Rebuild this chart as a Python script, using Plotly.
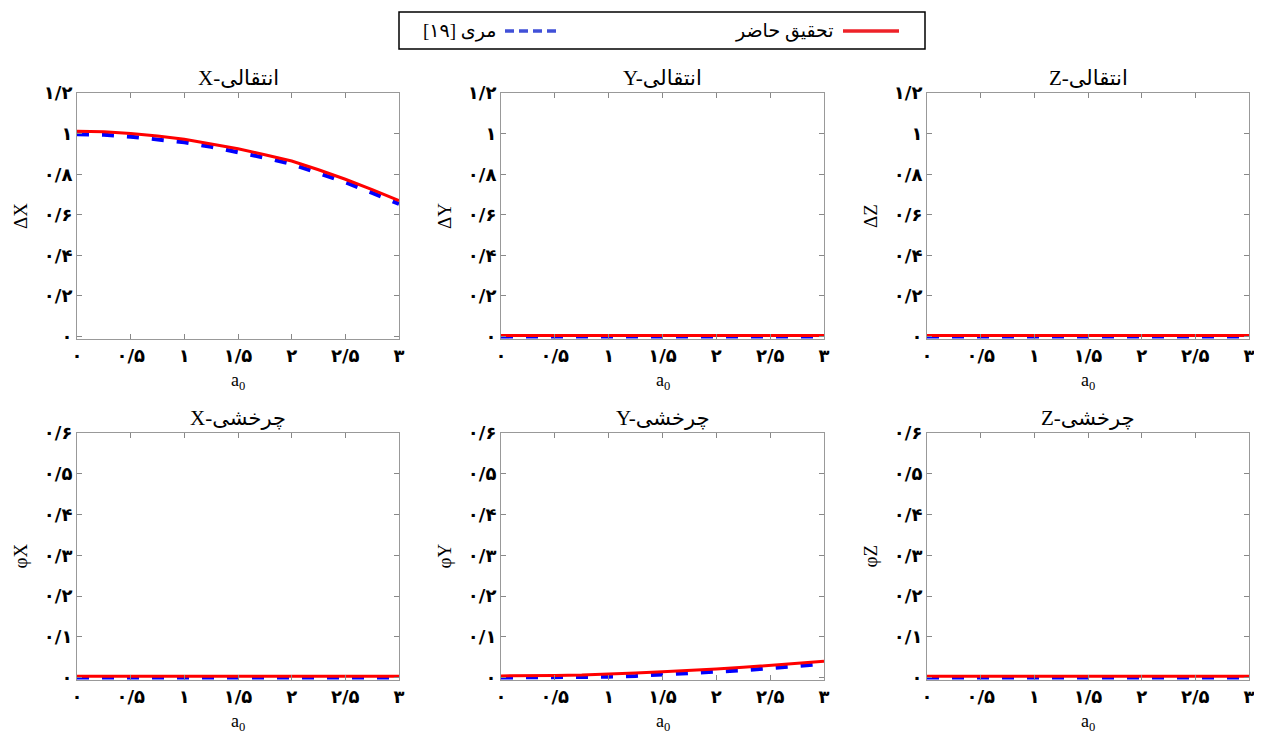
import plotly.graph_objects as go
from plotly.subplots import make_subplots

# a0 values
a0 = [0, 0.25, 0.5, 0.75, 1.0, 1.25, 1.5, 1.75, 2.0, 2.25, 2.5, 2.75, 3.0]

# present study (red) and Mari [19] (blue)
dx_present = [1.012, 1.009, 1.0, 0.988, 0.972, 0.950, 0.925, 0.896, 0.865, 0.822, 0.775, 0.724, 0.67]
dx_mari = [0.997, 0.994, 0.985, 0.973, 0.957, 0.935, 0.91, 0.881, 0.85, 0.807, 0.76, 0.708, 0.653]
dy_present = [0.005] * 13
dy_mari = [0.0] * 13
dz_present = [0.005] * 13
dz_mari = [0.0] * 13
px_present = [0.003] * 13
px_mari = [0.0] * 13
py_present = [0.004, 0.004, 0.005, 0.006, 0.008, 0.011, 0.014, 0.017, 0.021, 0.025, 0.030, 0.035, 0.040]
py_mari = [0.0, 0.0, 0.0, 0.001, 0.002, 0.004, 0.007, 0.010, 0.014, 0.018, 0.023, 0.028, 0.034]
pz_present = [0.003] * 13
pz_mari = [0.0] * 13

x_ticks = [0, 0.5, 1, 1.5, 2, 2.5, 3]
x_labels = ["۰", "۰/۵", "۱", "۱/۵", "۲", "۲/۵", "۳"]
top_ticks = [0, 0.2, 0.4, 0.6, 0.8, 1.0, 1.2]
top_labels = ["۰", "۰/۲", "۰/۴", "۰/۶", "۰/۸", "۱", "۱/۲"]
bot_ticks = [0, 0.1, 0.2, 0.3, 0.4, 0.5, 0.6]
bot_labels = ["۰", "۰/۱", "۰/۲", "۰/۳", "۰/۴", "۰/۵", "۰/۶"]

panels = [
    ("X-انتقالی", "ΔX", dx_present, dx_mari),
    ("Y-انتقالی", "ΔY", dy_present, dy_mari),
    ("Z-انتقالی", "ΔZ", dz_present, dz_mari),
    ("X-چرخشی", "φX", px_present, px_mari),
    ("Y-چرخشی", "φY", py_present, py_mari),
    ("Z-چرخشی", "φZ", pz_present, pz_mari),
]

# page body has an 8px margin, so the figure is a bit smaller and shifted
OFF = 8
W, H = 1254, 725
col_px = [(77, 399), (501, 824), (927, 1249)]
row_px = [(93, 339), (433, 680)]


def fx(p):
    return (p - OFF) / W


def fy(p):
    return 1 - (p - OFF) / H


fig = make_subplots(rows=2, cols=3)

FONT = "Liberation Serif, DejaVu Sans, serif"
TICKFONT = dict(family="DejaVu Sans", size=18, color="black", weight="bold")
annotations = []

for i, (title, ylab, red, blue) in enumerate(panels):
    r, c = i // 3, i % 3
    x0, x1 = col_px[c]
    y0, y1 = row_px[r]
    fig.add_trace(go.Scatter(x=a0, y=blue, mode="lines", showlegend=False,
                             line=dict(color="#0000ff", width=4, dash="12px,13px")),
                  row=r + 1, col=c + 1)
    fig.add_trace(go.Scatter(x=a0, y=red, mode="lines", showlegend=False,
                             line=dict(color="#ff0000", width=3)),
                  row=r + 1, col=c + 1)
    ax = dict(domain=[fx(x0), fx(x1)], range=[0, 3], tickvals=x_ticks, ticktext=x_labels,
              ticks="inside", ticklen=5, tickcolor="#888", showline=True, linecolor="#999",
              linewidth=1, mirror="ticks", showgrid=False, zeroline=False, automargin=False,
              tickfont=TICKFONT)
    if r == 0:
        yax = dict(range=[-0.012, 1.2], tickvals=top_ticks, ticktext=top_labels)
    else:
        yax = dict(range=[-0.006, 0.6], tickvals=bot_ticks, ticktext=bot_labels)
    yax.update(domain=[fy(y1), fy(y0)], ticks="inside", ticklen=5, tickcolor="#888",
               showline=True, linecolor="#999", linewidth=1, mirror="ticks", showgrid=False,
               zeroline=False, automargin=False, tickfont=TICKFONT)
    fig.update_xaxes(ax, row=r + 1, col=c + 1)
    fig.update_yaxes(yax, row=r + 1, col=c + 1)

    xc = fx((x0 + x1) / 2)
    annotations.append(dict(text=title, x=xc, y=fy(y0 - 15), xref="paper", yref="paper",
                            xanchor="center", yanchor="middle", showarrow=False,
                            font=dict(family=FONT, size=21, color="black")))
    annotations.append(dict(text="a<sub>0</sub>", x=xc, y=fy(y1 + 42), xref="paper",
                            yref="paper", xanchor="center", yanchor="middle", showarrow=False,
                            font=dict(family=FONT, size=18, color="black")))
    annotations.append(dict(text=ylab, x=fx(x0 - 57), y=fy((y0 + y1) / 2), xref="paper",
                            yref="paper", xanchor="center", yanchor="middle", showarrow=False,
                            textangle=-90, font=dict(family=FONT, size=19, color="black")))

# legend drawn by hand so the line sits to the right of the Persian text
shapes = [
    dict(type="rect", xref="paper", yref="paper", x0=fx(399), x1=fx(925),
         y0=fy(49), y1=fy(12), line=dict(color="black", width=1.5)),
    dict(type="line", xref="paper", yref="paper", x0=fx(843), x1=fx(899),
         y0=fy(31), y1=fy(31), line=dict(color="#ee2228", width=3.5)),
    dict(type="line", xref="paper", yref="paper", x0=fx(505), x1=fx(561),
         y0=fy(31), y1=fy(31), line=dict(color="#4050d8", width=3.5, dash="9px,5px")),
]
annotations.append(dict(text="تحقیق حاضر", x=fx(836), y=fy(31), xref="paper", yref="paper",
                        xanchor="right", yanchor="middle", showarrow=False,
                        font=dict(family=FONT, size=19, color="black")))
annotations.append(dict(text="[۱۹] مری", x=fx(498), y=fy(31), xref="paper", yref="paper",
                        xanchor="right", yanchor="middle", showarrow=False,
                        font=dict(family=FONT, size=19, color="black")))

fig.update_layout(width=W, height=H, margin=dict(l=0, r=0, t=0, b=0),
                  plot_bgcolor="white", paper_bgcolor="white",
                  annotations=annotations, shapes=shapes, showlegend=False)

fig.write_html("out.html")
